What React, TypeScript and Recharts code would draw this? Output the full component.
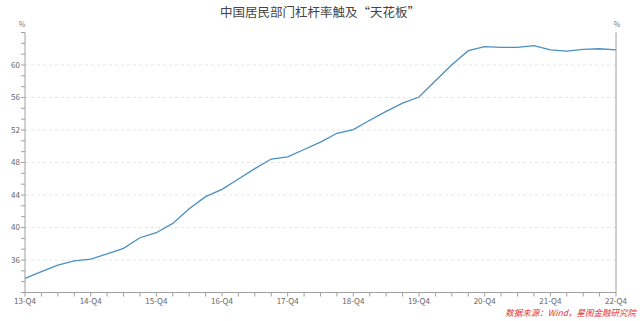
import React from 'react';
import { LineChart, Line, XAxis, YAxis, ReferenceLine } from 'recharts';

const quarters = [
  '13-Q4', '14-Q1', '14-Q2', '14-Q3', '14-Q4', '15-Q1', '15-Q2', '15-Q3', '15-Q4',
  '16-Q1', '16-Q2', '16-Q3', '16-Q4', '17-Q1', '17-Q2', '17-Q3', '17-Q4',
  '18-Q1', '18-Q2', '18-Q3', '18-Q4', '19-Q1', '19-Q2', '19-Q3', '19-Q4',
  '20-Q1', '20-Q2', '20-Q3', '20-Q4', '21-Q1', '21-Q2', '21-Q3', '21-Q4',
  '22-Q1', '22-Q2', '22-Q3', '22-Q4',
];

const leverage = [
  33.75, 34.56, 35.38, 35.88, 36.12, 36.74, 37.44, 38.74, 39.36,
  40.5, 42.3, 43.8, 44.7, 45.97, 47.24, 48.43, 48.7,
  49.6, 50.5, 51.6, 52.05, 53.2, 54.3, 55.3, 56.06,
  58.07, 60.04, 61.76, 62.25, 62.18, 62.18, 62.38, 61.85,
  61.72, 61.93, 62.0, 61.85,
];

const majorTicks = [36, 40, 44, 48, 52, 56, 60];
const allTicks = [
  32, 33.333, 34.667, 36, 37.333, 38.667, 40, 41.333, 42.667, 44, 45.333, 46.667,
  48, 49.333, 50.667, 52, 53.333, 54.667, 56, 57.333, 58.667, 60, 61.333, 62.667, 64,
];

const data = quarters.map((q, i) => ({ q, v: leverage[i] }));

const FONT = '"Noto Sans CJK SC", "Noto Sans", sans-serif';
const axisColor = '#a0a0a0';
const labelColor = '#666666';

const fmtY = (v: number) => {
  const r = Math.round(v);
  return Math.abs(v - r) < 0.01 && majorTicks.includes(r) ? String(r) : '';
};
const fmtX = (q: string) => (q.endsWith('Q4') ? q : '');

export default function App() {
  return (
    <div style={{ position: 'absolute', left: 0, top: 0, width: 640, height: 321, background: '#fff', fontFamily: FONT }}>
      <LineChart
        width={640}
        height={321}
        data={data}
        margin={{ top: 32.5, right: 0, left: 0, bottom: 0 }}
        style={{ fontFamily: FONT }}
      >
        {majorTicks.map((t) => (
          <ReferenceLine key={t} yAxisId="l" y={t} stroke="#e6e6e6" strokeDasharray="3 3" />
        ))}
        <XAxis
          dataKey="q"
          interval={0}
          height={28.5}
          tickFormatter={fmtX}
          tick={{ fontSize: 8, fill: labelColor }}
          tickLine={{ stroke: axisColor }}
          axisLine={{ stroke: axisColor }}
          tickSize={4}
        />
        <YAxis
          yAxisId="l"
          orientation="left"
          width={25}
          domain={[32, 64]}
          ticks={allTicks}
          interval={0}
          tickFormatter={fmtY}
          tick={{ fontSize: 8, fill: labelColor }}
          tickLine={{ stroke: axisColor }}
          axisLine={{ stroke: axisColor }}
          tickSize={4}
          tickMargin={1}
        />
        <YAxis
          yAxisId="r"
          orientation="right"
          width={24}
          domain={[32, 64]}
          ticks={allTicks}
          interval={0}
          tickFormatter={fmtY}
          tick={{ fontSize: 8, fill: labelColor }}
          tickLine={{ stroke: axisColor }}
          axisLine={{ stroke: axisColor }}
          tickSize={4}
          tickMargin={1}
        />
        <Line
          yAxisId="l"
          type="linear"
          dataKey="v"
          stroke="#4b8fc1"
          strokeWidth={1.3}
          dot={false}
          isAnimationActive={false}
        />
        <text x={320} y={17} textAnchor="middle" fontSize={12.5} fill="#444" fontFamily={FONT}>
          中国居民部门杠杆率触及“天花板”
        </text>
        <text x={22} y={27} textAnchor="middle" fontSize={7} fill="#777" fontFamily={FONT}>%</text>
        <text x={617} y={27} textAnchor="middle" fontSize={7} fill="#777" fontFamily={FONT}>%</text>
        <text x={636} y={316} textAnchor="end" fontSize={8.5} fill="#e03030" fontStyle="italic" fontFamily={FONT}>
          数据来源：Wind，星图金融研究院
        </text>
      </LineChart>
    </div>
  );
}
